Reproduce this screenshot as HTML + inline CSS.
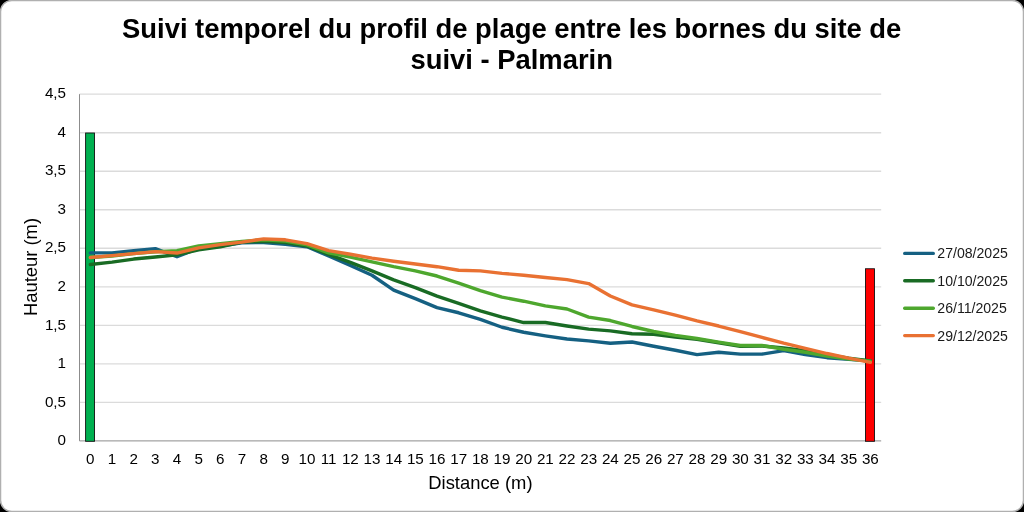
<!DOCTYPE html>
<html><head><meta charset="utf-8"><title>Suivi temporel du profil de plage</title>
<style>
html,body{margin:0;padding:0;background:#000;}
body{width:1024px;height:512px;overflow:hidden;}
svg{display:block;will-change:transform;}
text{font-family:"Liberation Sans",sans-serif;fill:#000;}
.t{font-size:15.2px;}
.ax{font-size:18.4px;}
.ttl{font-size:27.4px;font-weight:bold;}
.lg{font-size:14.1px;fill:#1a1a1a;}
</style></head><body>
<svg width="1024" height="512" viewBox="0 0 1024 512">
<rect x="0.5" y="0.5" width="1023" height="511" rx="11.3" ry="11.3" fill="#fff" stroke="#b0b0b0" stroke-width="1.5"/>
<text class="ttl" x="511.7" y="37.5" text-anchor="middle">Suivi temporel du profil de plage entre les bornes du site de</text>
<text class="ttl" x="511.7" y="69" text-anchor="middle">suivi - Palmarin</text>
<line x1="79.50" y1="402.38" x2="881.18" y2="402.38" stroke="#dbdbdb" stroke-width="1.35"/>
<line x1="79.50" y1="363.85" x2="881.18" y2="363.85" stroke="#dbdbdb" stroke-width="1.35"/>
<line x1="79.50" y1="325.32" x2="881.18" y2="325.32" stroke="#dbdbdb" stroke-width="1.35"/>
<line x1="79.50" y1="286.80" x2="881.18" y2="286.80" stroke="#dbdbdb" stroke-width="1.35"/>
<line x1="79.50" y1="248.27" x2="881.18" y2="248.27" stroke="#dbdbdb" stroke-width="1.35"/>
<line x1="79.50" y1="209.75" x2="881.18" y2="209.75" stroke="#dbdbdb" stroke-width="1.35"/>
<line x1="79.50" y1="171.22" x2="881.18" y2="171.22" stroke="#dbdbdb" stroke-width="1.35"/>
<line x1="79.50" y1="132.70" x2="881.18" y2="132.70" stroke="#dbdbdb" stroke-width="1.35"/>
<line x1="79.50" y1="94.18" x2="881.18" y2="94.18" stroke="#dbdbdb" stroke-width="1.35"/>
<text class="t" x="66" y="445.10" text-anchor="end">0</text>
<text class="t" x="66" y="406.57" text-anchor="end">0,5</text>
<text class="t" x="66" y="368.05" text-anchor="end">1</text>
<text class="t" x="66" y="329.52" text-anchor="end">1,5</text>
<text class="t" x="66" y="291.00" text-anchor="end">2</text>
<text class="t" x="66" y="252.47" text-anchor="end">2,5</text>
<text class="t" x="66" y="213.95" text-anchor="end">3</text>
<text class="t" x="66" y="175.42" text-anchor="end">3,5</text>
<text class="t" x="66" y="136.90" text-anchor="end">4</text>
<text class="t" x="66" y="98.38" text-anchor="end">4,5</text>
<text class="t" x="90.33" y="463.9" text-anchor="middle">0</text>
<text class="t" x="112.00" y="463.9" text-anchor="middle">1</text>
<text class="t" x="133.67" y="463.9" text-anchor="middle">2</text>
<text class="t" x="155.33" y="463.9" text-anchor="middle">3</text>
<text class="t" x="177.00" y="463.9" text-anchor="middle">4</text>
<text class="t" x="198.67" y="463.9" text-anchor="middle">5</text>
<text class="t" x="220.34" y="463.9" text-anchor="middle">6</text>
<text class="t" x="242.00" y="463.9" text-anchor="middle">7</text>
<text class="t" x="263.67" y="463.9" text-anchor="middle">8</text>
<text class="t" x="285.34" y="463.9" text-anchor="middle">9</text>
<text class="t" x="307.00" y="463.9" text-anchor="middle">10</text>
<text class="t" x="328.67" y="463.9" text-anchor="middle">11</text>
<text class="t" x="350.34" y="463.9" text-anchor="middle">12</text>
<text class="t" x="372.00" y="463.9" text-anchor="middle">13</text>
<text class="t" x="393.67" y="463.9" text-anchor="middle">14</text>
<text class="t" x="415.34" y="463.9" text-anchor="middle">15</text>
<text class="t" x="437.01" y="463.9" text-anchor="middle">16</text>
<text class="t" x="458.67" y="463.9" text-anchor="middle">17</text>
<text class="t" x="480.34" y="463.9" text-anchor="middle">18</text>
<text class="t" x="502.01" y="463.9" text-anchor="middle">19</text>
<text class="t" x="523.67" y="463.9" text-anchor="middle">20</text>
<text class="t" x="545.34" y="463.9" text-anchor="middle">21</text>
<text class="t" x="567.01" y="463.9" text-anchor="middle">22</text>
<text class="t" x="588.67" y="463.9" text-anchor="middle">23</text>
<text class="t" x="610.34" y="463.9" text-anchor="middle">24</text>
<text class="t" x="632.01" y="463.9" text-anchor="middle">25</text>
<text class="t" x="653.68" y="463.9" text-anchor="middle">26</text>
<text class="t" x="675.34" y="463.9" text-anchor="middle">27</text>
<text class="t" x="697.01" y="463.9" text-anchor="middle">28</text>
<text class="t" x="718.68" y="463.9" text-anchor="middle">29</text>
<text class="t" x="740.34" y="463.9" text-anchor="middle">30</text>
<text class="t" x="762.01" y="463.9" text-anchor="middle">31</text>
<text class="t" x="783.68" y="463.9" text-anchor="middle">32</text>
<text class="t" x="805.34" y="463.9" text-anchor="middle">33</text>
<text class="t" x="827.01" y="463.9" text-anchor="middle">34</text>
<text class="t" x="848.68" y="463.9" text-anchor="middle">35</text>
<text class="t" x="870.35" y="463.9" text-anchor="middle">36</text>
<line x1="79.50" y1="94.18" x2="79.50" y2="440.90" stroke="#8c8c8c" stroke-width="1"/>
<line x1="79.50" y1="440.90" x2="881.18" y2="440.90" stroke="#8c8c8c" stroke-width="1"/>
<rect x="85.6" y="133.00" width="8.9" height="308.30" fill="#00b050" stroke="#111" stroke-width="0.9"/>
<rect x="865.5" y="268.76" width="8.95" height="172.54" fill="#ff0000" stroke="#111" stroke-width="0.9"/>
<path d="M90.33 252.90 L112.00 252.90 L133.67 250.59 L155.33 248.66 L177.00 256.75 L198.67 248.27 L220.34 245.96 L242.00 242.88 L263.67 242.50 L285.34 244.42 L307.00 246.73 L328.67 255.98 L350.34 265.46 L372.00 275.24 L393.67 290.11 L415.34 298.67 L437.01 307.60 L458.67 312.77 L480.34 319.47 L502.01 327.25 L523.67 332.26 L545.34 335.88 L567.01 339.04 L588.67 340.89 L610.34 343.20 L632.01 341.97 L653.68 346.28 L675.34 350.21 L697.01 354.60 L718.68 352.29 L740.34 354.14 L762.01 354.14 L783.68 350.67 L805.34 354.60 L827.01 357.69 L848.68 359.23 L870.35 360.85" fill="none" stroke="#156082" stroke-width="3.4" stroke-linecap="round" stroke-linejoin="round"/>
<path d="M90.33 264.46 L112.00 262.14 L133.67 259.06 L155.33 256.98 L177.00 254.82 L198.67 249.82 L220.34 246.73 L242.00 242.11 L263.67 241.34 L285.34 242.50 L307.00 245.96 L328.67 254.44 L350.34 262.30 L372.00 270.93 L393.67 279.94 L415.34 287.57 L437.01 296.05 L458.67 303.37 L480.34 310.84 L502.01 317.08 L523.67 322.55 L545.34 322.55 L567.01 326.02 L588.67 329.18 L610.34 330.87 L632.01 333.80 L653.68 334.26 L675.34 336.96 L697.01 339.27 L718.68 342.74 L740.34 346.28 L762.01 345.97 L783.68 348.05 L805.34 350.67 L827.01 354.60 L848.68 358.07 L870.35 360.85" fill="none" stroke="#196b24" stroke-width="3.4" stroke-linecap="round" stroke-linejoin="round"/>
<path d="M90.33 257.52 L112.00 255.98 L133.67 253.67 L155.33 251.74 L177.00 250.59 L198.67 245.96 L220.34 243.81 L242.00 241.34 L263.67 239.80 L285.34 240.96 L307.00 244.81 L328.67 252.90 L350.34 257.14 L372.00 261.84 L393.67 266.69 L415.34 270.93 L437.01 276.01 L458.67 283.10 L480.34 290.65 L502.01 297.12 L523.67 301.21 L545.34 305.91 L567.01 308.99 L588.67 317.08 L610.34 320.55 L632.01 326.48 L653.68 331.49 L675.34 335.34 L697.01 338.50 L718.68 342.12 L740.34 345.51 L762.01 345.51 L783.68 349.21 L805.34 352.29 L827.01 356.14 L848.68 359.00 L870.35 361.15" fill="none" stroke="#4ea72e" stroke-width="3.4" stroke-linecap="round" stroke-linejoin="round"/>
<path d="M90.33 257.52 L112.00 255.59 L133.67 253.67 L155.33 251.59 L177.00 253.05 L198.67 247.89 L220.34 244.65 L242.00 242.11 L263.67 238.87 L285.34 239.80 L307.00 243.65 L328.67 250.59 L350.34 254.21 L372.00 258.14 L393.67 261.22 L415.34 263.99 L437.01 266.69 L458.67 270.23 L480.34 270.85 L502.01 273.39 L523.67 275.24 L545.34 277.55 L567.01 279.63 L588.67 283.56 L610.34 295.97 L632.01 304.91 L653.68 309.91 L675.34 315.08 L697.01 320.86 L718.68 326.02 L740.34 331.72 L762.01 337.42 L783.68 343.20 L805.34 348.44 L827.01 353.53 L848.68 358.07 L870.35 362.39" fill="none" stroke="#e97132" stroke-width="3.4" stroke-linecap="round" stroke-linejoin="round"/>
<text class="ax" x="480.4" y="489.4" text-anchor="middle">Distance (m)</text>
<text class="ax" transform="translate(36.8,267) rotate(-90)" text-anchor="middle">Hauteur (m)</text>
<line x1="904.7" y1="253.40" x2="933.3" y2="253.40" stroke="#156082" stroke-width="3.4" stroke-linecap="round"/>
<text class="lg" x="937.3" y="258.30">27/08/2025</text>
<line x1="904.7" y1="280.80" x2="933.3" y2="280.80" stroke="#196b24" stroke-width="3.4" stroke-linecap="round"/>
<text class="lg" x="937.3" y="285.70">10/10/2025</text>
<line x1="904.7" y1="308.20" x2="933.3" y2="308.20" stroke="#4ea72e" stroke-width="3.4" stroke-linecap="round"/>
<text class="lg" x="937.3" y="313.10">26/11/2025</text>
<line x1="904.7" y1="335.60" x2="933.3" y2="335.60" stroke="#e97132" stroke-width="3.4" stroke-linecap="round"/>
<text class="lg" x="937.3" y="340.50">29/12/2025</text>
</svg>
</body></html>
